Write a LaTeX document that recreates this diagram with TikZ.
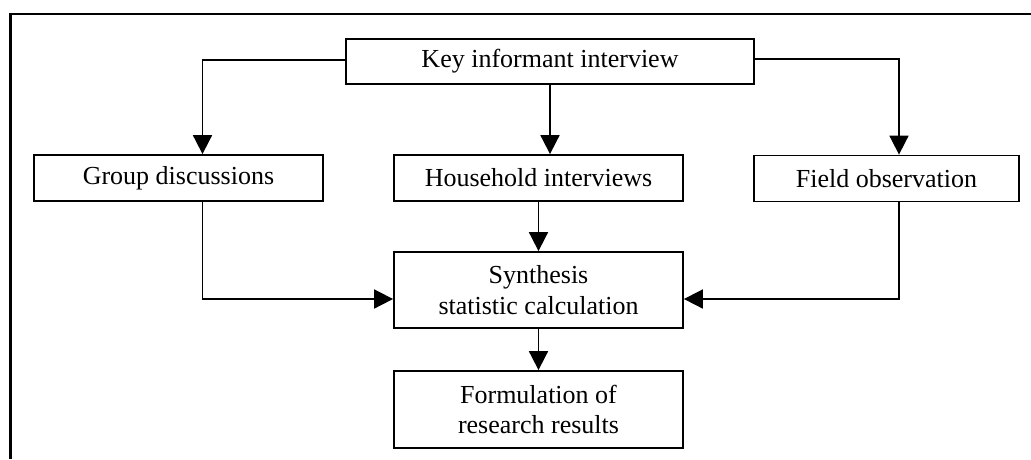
\documentclass[tikz,border=0pt]{standalone}
\usepackage{fontspec}
\setmainfont{Liberation Serif}
\usetikzlibrary{arrows.meta}
\begin{document}
\begin{tikzpicture}[x=1pt,y=-1pt,
  box/.style={draw,line width=1.8pt,inner sep=0pt,align=center,font=\fontsize{26}{30.5}\selectfont},
  conn/.style={line width=1.8pt,-{Triangle[length=19pt,width=19pt]}},
  frame/.style={line width=2.2pt}]
\useasboundingbox (0,0) rectangle (1031,459);
\draw[frame] (1031,14) -- (10.5,14) -- (10.5,459);
\node[box,minimum width=408pt,minimum height=45pt] (key) at (550,61.5) {Key informant interview};
\node[box,minimum width=289pt,minimum height=46pt] (group) at (178.5,178) {Group discussions};
\node[box,minimum width=289pt,minimum height=46pt] (house) at (538.5,178) {Household interviews};
\node[box,minimum width=265pt,minimum height=46pt] (field) at (886.5,178.5) {Field observation};
\node[box,minimum width=289pt,minimum height=76pt] (synth) at (538.5,290) {Synthesis\\statistic calculation};
\node[box,minimum width=289pt,minimum height=77pt] (form) at (538.5,409.5) {Formulation of\\research results};
\draw[conn] ([yshift=1.5pt]key.west) -| ([xshift=24pt]group.north);
\draw[conn] (key.south) -- (key.south |- house.north);
\draw[conn] ([yshift=2.5pt]key.east) -| ([xshift=12.5pt]field.north);
\draw[conn] ([xshift=24pt]group.south) |- ([yshift=-9pt]synth.west);
\draw[conn] ([xshift=12.5pt]field.south) |- ([yshift=-9pt]synth.east);
\draw[conn] (house.south) -- (synth.north);
\draw[conn] (synth.south) -- (form.north);
\end{tikzpicture}
\end{document}
